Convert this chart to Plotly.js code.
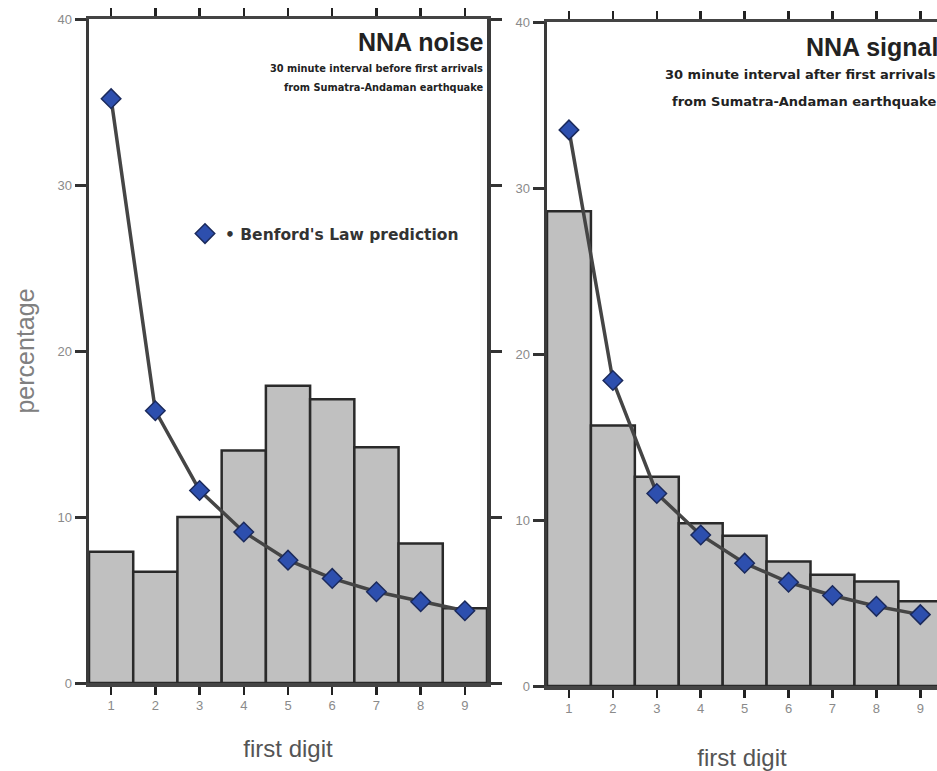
<!DOCTYPE html>
<html>
<head>
<meta charset="utf-8">
<script src="https://cdn.plot.ly/plotly-3.0.1.min.js"></script>
<style>html,body{margin:0;padding:0;background:#fff;}#chart{width:937px;height:771px;}</style>
</head>
<body>
<div id="chart"></div>
<script>
// ---- data ----
const digits = [1, 2, 3, 4, 5, 6, 7, 8, 9];
const noisePct = [7.9, 6.7, 10.0, 14.0, 17.9, 17.1, 14.2, 8.4, 4.5];
const noiseBenford = [35.2, 16.4, 11.6, 9.1, 7.4, 6.3, 5.5, 4.9, 4.35];
const signalPct = [28.6, 15.7, 12.6, 9.8, 9.05, 7.5, 6.7, 6.3, 5.1];
const signalBenford = [33.5, 18.4, 11.6, 9.1, 7.4, 6.25, 5.45, 4.8, 4.3];
const yTicks = [0, 10, 20, 30, 40];
const legendLabel = "\u2022 Benford's Law prediction";
const noiseTitle = "NNA noise";
const noiseSub = ["30 minute interval before first arrivals", "from Sumatra-Andaman earthquake"];
const signalTitle = "NNA signal";
const signalSub = ["30 minute interval after first arrivals", "from Sumatra-Andaman earthquake"];

const FONT = "Liberation Sans, Arial, sans-serif";
const WIDE = "DejaVu Sans, Liberation Sans, sans-serif";
const barStyle = {color: '#c0c0c0', line: {color: '#2a2a2a', width: 2.5}};
const lineStyle = {color: '#454545', width: 3.5};
const markerStyle = {symbol: 'diamond', size: 15, color: '#2d4fae', line: {color: '#1b2a5c', width: 1.5}};

const traces = [
  {type: 'bar', x: digits, y: noisePct, width: 1, marker: barStyle, xaxis: 'x', yaxis: 'y', showlegend: false, hoverinfo: 'skip'},
  {type: 'scatter', mode: 'lines+markers', x: digits, y: noiseBenford, line: lineStyle, marker: markerStyle, xaxis: 'x', yaxis: 'y', showlegend: false},
  {type: 'bar', x: digits, y: signalPct, width: 1, marker: barStyle, xaxis: 'x2', yaxis: 'y2', showlegend: false, hoverinfo: 'skip'},
  {type: 'scatter', mode: 'lines+markers', x: digits, y: signalBenford, line: lineStyle, marker: markerStyle, xaxis: 'x2', yaxis: 'y2', showlegend: false},
  {type: 'scatter', mode: 'markers', x: [null], y: [null], marker: markerStyle, name: legendLabel, showlegend: true, xaxis: 'x', yaxis: 'y'}
];

function xAxis(domain, range, anchor, standoff) {
  return {
    domain: domain, range: range, anchor: anchor,
    tickmode: 'array', tickvals: digits, ticktext: digits.map(String),
    ticks: 'outside', ticklen: 8, tickwidth: 2.5, tickcolor: '#222',
    showline: true, linecolor: '#444', linewidth: 3.5, mirror: 'allticks',
    showgrid: false, zeroline: false,
    tickfont: {family: FONT, size: 13, color: '#8a8a8a'},
    title: {text: 'first digit', font: {family: FONT, size: 24, color: '#555'}, standoff: standoff}
  };
}
function yAxis(domain, anchor, mirror, withTitle) {
  const a = {
    domain: domain, range: [0, 40], anchor: anchor,
    tickmode: 'array', tickvals: yTicks, ticktext: yTicks.map(String),
    ticks: 'outside', ticklen: 11, tickwidth: 3, tickcolor: '#333',
    showline: true, linecolor: '#3a3a3a', linewidth: 3.5, mirror: mirror,
    showgrid: false, zeroline: false,
    tickfont: {family: FONT, size: 13, color: '#8a8a8a'}
  };
  if (withTitle) a.title = {text: 'percentage', font: {family: FONT, size: 25, color: '#808080'}, standoff: 16};
  return a;
}

const annotations = [];
function addText(yPix, text, size, xPix, family) {
  annotations.push({xref: 'paper', yref: 'paper', x: xPix / 937, y: 1 - yPix / 771, xanchor: 'right', yanchor: 'middle',
    text: text, showarrow: false, font: {family: family, size: size, color: '#222'}});
}
addText(42, '<b>' + noiseTitle + '</b>', 25, 486, FONT);
addText(68, '<b>' + noiseSub[0] + '</b>', 9.8, 485, WIDE);
addText(87, '<b>' + noiseSub[1] + '</b>', 9.8, 485, WIDE);
addText(47, '<b>' + signalTitle + '</b>', 25, 940, FONT);
addText(75, '<b>' + signalSub[0] + '</b>', 13, 938, WIDE);
addText(102, '<b>' + signalSub[1] + '</b>', 13, 938, WIDE);

const layout = {
  width: 937, height: 771,
  margin: {l: 0, r: 0, t: 0, b: 0},
  paper_bgcolor: '#fff', plot_bgcolor: '#fff',
  bargap: 0,
  font: {family: FONT},
  xaxis: xAxis([89 / 937, 487 / 937], [0.5, 9.5], 'y', 29),
  yaxis: yAxis([1 - 683 / 771, 1 - 19 / 771], 'x', 'allticks', true),
  xaxis2: xAxis([547 / 937, 1], [0.5, 9.38], 'y2', 36),
  yaxis2: yAxis([1 - 686 / 771, 1 - 22 / 771], 'x2', false, false),
  showlegend: true,
  legend: {x: 185 / 937, y: 1 - 234 / 771, xanchor: 'left', yanchor: 'middle', bgcolor: 'rgba(0,0,0,0)',
    font: {family: WIDE, size: 15.5, color: '#333', weight: 'bold'}},
  annotations: annotations
};

Plotly.newPlot('chart', traces, layout, {displayModeBar: false, staticPlot: true});
</script>
</body>
</html>
